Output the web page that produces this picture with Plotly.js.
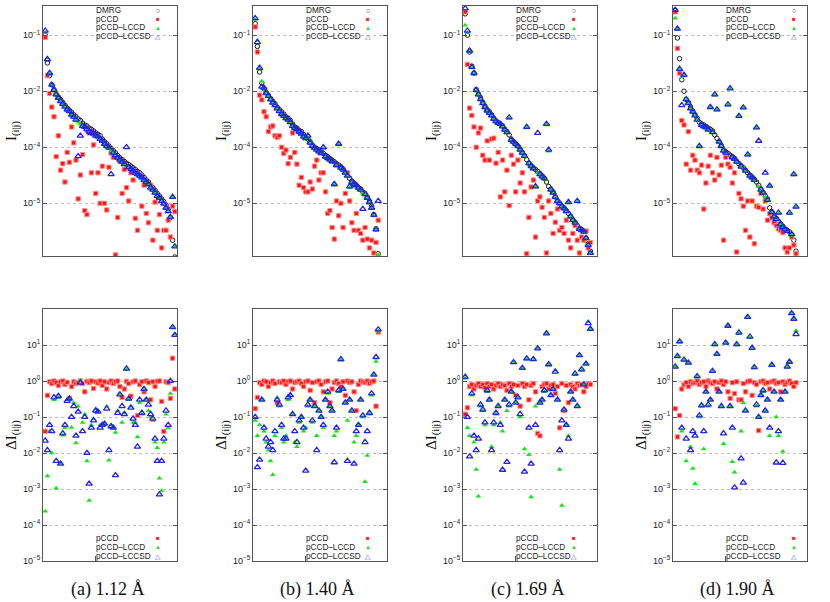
<!DOCTYPE html>
<html><head><meta charset="utf-8">
<script src="https://cdn.plot.ly/plotly-3.0.1.min.js"></script>
<style>html,body{margin:0;padding:0;background:#fff}#chart{width:830px;height:602px}</style>
</head><body><div id="chart"></div>
<script>
// ---------- legend / caption / tick labels ----------
const topNames = ['DMRG','pCCD','pCCD–LCCD','pCCD–LCCSD'];
const botNames = ['pCCD','pCCD–LCCD','pCCD–LCCSD'];
const captions = ['(a) 1.12 Å','(b) 1.40 Å','(c) 1.69 Å','(d) 1.90 Å'];
const topTickVals = [1e-1,1e-2,1e-3,1e-4];
const topTickText = ['10<sup>−1</sup>','10<sup>−2</sup>','10<sup>−4</sup>','10<sup>−5</sup>'];
const botTickVals = [1e1,1e0,1e-1,1e-2,1e-3,1e-4,1e-5];
const botTickText = ['10<sup>1</sup>','10<sup>0</sup>','10<sup>−1</sup>','10<sup>−2</sup>','10<sup>−3</sup>','10<sup>−4</sup>','10<sup>−5</sup>'];

// ---------- (a) 1.12 A : I(i|j) ----------
const dmrgA = [1.0e-1,3.2e-2,1.9e-2,1.3e-2,1.07e-2,8.9e-3,7.9e-3,7.1e-3,6.3e-3,5.6e-3,
 5.0e-3,4.6e-3,4.2e-3,3.8e-3,3.5e-3,3.2e-3,3.0e-3,2.7e-3,2.5e-3,2.4e-3,
 2.2e-3,2.1e-3,1.95e-3,1.8e-3,1.7e-3,1.6e-3,1.4e-3,1.26e-3,1.15e-3,1.05e-3,
 9.5e-4,8.7e-4,7.9e-4,7.1e-4,6.5e-4,6.0e-4,5.6e-4,5.2e-4,4.9e-4,4.6e-4,
 4.3e-4,4.0e-4,3.7e-4,3.5e-4,3.2e-4,2.9e-4,2.6e-4,2.4e-4,2.1e-4,1.9e-4,
 1.7e-4,1.5e-4,1.35e-4,1.2e-4,1.07e-4,9.3e-5,7.9e-5,5.6e-5,2.2e-5,1.1e-5];
const pccdA = [9.1e-2,1.9e-2,9.1e-3,5.2e-3,3.5e-3,6.8e-4,1.6e-3,3.9e-4,5.1e-4,2.4e-4,
 8.1e-4,5.4e-4,2.3e-3,1.2e-3,5.9e-4,1.2e-4,3.2e-4,7.4e-4,7.4e-5,6.3e-5,
 1.8e-3,3.5e-4,1.1e-3,1.5e-4,3.5e-4,1.0e-4,4.6e-4,1.0e-4,7.6e-5,4.4e-4,
 7.9e-4,6.6e-4,1.2e-5,5.6e-5,5.6e-4,1.5e-4,4.0e-4,1.9e-4,1.1e-4,3.5e-4,
 2.6e-4,5.4e-5,3.3e-5,3.2e-4,8.9e-5,2.1e-4,6.6e-5,4.5e-5,2.1e-4,2.2e-5,
 1.05e-4,3.3e-5,6.3e-5,1.6e-5,3.3e-5,3.3e-5,5.0e-5,2.5e-5,8.9e-5,7.1e-5];
const lccdA = [1.1e-1,3.9e-2,2.0e-2,1.3e-2,1.0e-2,8.5e-3,7.5e-3,6.5e-3,5.8e-3,5.2e-3,
 4.5e-3,4.6e-3,3.7e-3,3.4e-3,3.0e-3,2.8e-3,2.6e-3,2.3e-3,2.2e-3,2.0e-3,
 1.9e-3,1.8e-3,1.7e-3,1.6e-3,1.5e-3,1.4e-3,1.25e-3,1.1e-3,1.0e-3,9.5e-4,
 8.5e-4,7.7e-4,7.0e-4,6.3e-4,5.8e-4,5.3e-4,4.8e-4,4.6e-4,4.3e-4,4.0e-4,
 3.7e-4,3.4e-4,3.2e-4,3.0e-4,2.8e-4,2.5e-4,2.3e-4,2.1e-4,1.8e-4,1.7e-4,
 1.5e-4,1.3e-4,1.2e-4,1.05e-4,9.5e-5,8.0e-5,7.0e-5,5.5e-5,1.3e-4,1.7e-5];
const lccsdA = [1.2e-1,3.7e-2,2.1e-2,1.3e-2,1.05e-2,8.7e-3,7.6e-3,6.6e-3,5.9e-3,5.3e-3,
 4.7e-3,4.4e-3,3.8e-3,3.5e-3,3.1e-3,6.9e-4,1.6e-3,2.4e-3,2.3e-3,2.1e-3,
 1.9e-3,1.8e-3,1.75e-3,1.6e-3,1.55e-3,1.4e-3,1.3e-3,1.15e-3,1.05e-3,9.8e-4,
 3.3e-4,8.0e-4,7.2e-4,6.5e-4,6.0e-4,5.5e-4,5.0e-4,1.0e-3,4.4e-4,4.1e-4,
 3.8e-4,3.5e-4,3.3e-4,3.1e-4,2.9e-4,2.6e-4,2.4e-4,2.2e-4,1.9e-4,1.75e-4,
 1.55e-4,1.35e-4,1.25e-4,1.1e-4,9.8e-5,8.3e-5,7.2e-5,5.7e-5,1.3e-4,1.7e-5];
// (a) Delta I(i|j)
const dPccdA = [0.04,0.4,0.95,0.85,1.0,0.9,0.75,0.95,1.0,0.8,
 0.92,0.33,0.7,0.95,0.85,0.9,1.0,0.85,0.5,0.98,
 0.9,1.0,0.62,0.95,0.88,1.0,0.75,0.95,0.6,0.9,
 1.0,0.85,0.95,1.0,0.7,0.35,0.6,0.98,0.85,0.38,
 0.95,1.0,0.11,0.8,0.95,0.5,1.0,0.9,0.3,0.95,
 0.7,0.98,1.0,0.27,0.04,0.95,0.9,0.33,4.3,0.6];
const dLccdA = [2.4e-4,2.3e-3,0.04,0.01,0.3,1.05e-3,0.35,5.1e-3,0.031,0.05,
 0.3,0.35,0.051,0.25,0.019,0.2,1.05,0.07,0.12,6.0e-3,
 4.8e-4,0.06,0.09,0.17,0.15,0.06,0.065,0.065,0.2,6.3e-3,
 0.06,0.05,0.037,0.15,0.45,0.07,0.13,2.1,0.3,0.2,
 0.07,0.07,0.028,0.25,0.12,0.55,0.3,0.15,0.1,0.08,
 0.02,0.014,2.0e-3,9.0e-4,0.02,0.12,0.05,0.45,31,20];
const dLccsdA = [0.022,0.012,0.06,0.04,0.35,6.0e-3,0.38,5.0e-3,0.035,0.06,
 0.28,0.32,0.1,0.2,0.03,0.14,0.9,0.04,0.1,0.01,
 1.4e-3,0.05,0.08,0.15,0.14,0.05,0.06,0.065,0.17,0.012,
 0.055,0.05,2.4e-3,0.13,0.42,0.2,0.12,2.2,0.32,0.18,
 0.09,0.06,0.015,0.3,0.13,0.6,0.3,0.22,0.12,0.09,
 0.025,6.0e-3,7.0e-4,6.0e-3,0.025,0.15,0.06,1.0,31,19];

// ---------- (b) 1.40 A ----------
const dmrgB = [1.6e-1,6.3e-2,2.2e-2,1.4e-2,1.1e-2,9.5e-3,8.5e-3,7.4e-3,6.6e-3,6.0e-3,
 5.2e-3,4.7e-3,4.3e-3,3.9e-3,3.5e-3,3.3e-3,3.0e-3,2.6e-3,2.3e-3,2.2e-3,
 2.0e-3,1.9e-3,1.7e-3,1.5e-3,1.4e-3,1.26e-3,1.1e-3,1.0e-3,9.5e-4,8.9e-4,
 8.3e-4,7.8e-4,7.2e-4,6.8e-4,6.3e-4,5.9e-4,5.5e-4,5.1e-4,4.8e-4,4.5e-4,
 4.1e-4,3.6e-4,3.2e-4,2.8e-4,2.5e-4,2.3e-4,2.1e-4,1.9e-4,1.8e-4,1.6e-4,
 1.5e-4,1.3e-4,1.1e-4,8.9e-5,6.3e-5,3.5e-5,1.26e-5];
const pccdB = [1.4e-1,5.0e-2,8.5e-3,7.0e-3,4.3e-3,3.5e-3,1.9e-3,2.3e-3,2.4e-3,1.6e-3,
 1.5e-3,1.6e-3,1.0e-3,7.8e-4,8.9e-4,5.1e-4,6.6e-4,1.8e-3,8.1e-4,5.0e-4,
 2.1e-4,2.9e-4,1.9e-4,1.6e-4,1.6e-4,2.4e-4,1.8e-4,4.6e-4,5.9e-4,2.6e-4,
 3.5e-4,3.5e-4,1.6e-4,6.6e-5,7.4e-5,3.7e-5,2.3e-5,1.1e-4,6.0e-5,1.0e-4,
 3.7e-5,1.5e-4,3.5e-4,1.1e-4,4.5e-5,3.3e-5,6.6e-5,3.3e-5,2.9e-5,2.2e-5,
 3.7e-5,2.3e-5,1.6e-5,2.2e-5,1.3e-5,2.0e-5,5.0e-5];
const lccdB = [1.9e-1,8.0e-2,2.5e-2,1.5e-2,1.1e-2,9.0e-3,8.0e-3,7.0e-3,6.0e-3,5.5e-3,
 4.8e-3,4.3e-3,3.8e-3,3.5e-3,3.2e-3,3.0e-3,2.7e-3,2.3e-3,2.1e-3,2.0e-3,
 1.8e-3,1.7e-3,1.5e-3,1.4e-3,1.5e-3,1.15e-3,1.0e-3,9.5e-4,8.8e-4,8.2e-4,
 7.6e-4,9.5e-4,6.6e-4,6.2e-4,5.8e-4,5.4e-4,2.1e-4,4.6e-4,1.1e-3,4.1e-4,
 3.8e-4,3.4e-4,3.0e-4,1.9e-4,2.3e-4,2.1e-4,2.0e-4,1.8e-4,1.7e-4,1.5e-4,
 1.4e-4,1.2e-4,1.0e-4,8.0e-5,6.0e-5,3.3e-5,1.2e-5];
const lccsdB = [2.0e-1,7.5e-2,2.6e-2,1.2e-2,1.15e-2,9.2e-3,8.2e-3,7.1e-3,6.2e-3,5.6e-3,
 4.9e-3,4.4e-3,3.9e-3,3.6e-3,3.3e-3,3.1e-3,2.8e-3,2.4e-3,2.2e-3,2.1e-3,
 1.9e-3,1.75e-3,1.55e-3,1.45e-3,1.6e-3,1.2e-3,1.05e-3,9.8e-4,9.0e-4,8.4e-4,
 7.8e-4,1.0e-3,6.8e-4,6.4e-4,6.0e-4,5.6e-4,2.2e-4,4.8e-4,1.15e-3,4.3e-4,
 4.0e-4,3.5e-4,3.1e-4,2.0e-4,2.4e-4,2.2e-4,2.1e-4,1.9e-4,1.75e-4,7.9e-5,
 1.45e-4,1.25e-4,1.05e-4,8.3e-5,6.2e-5,3.4e-5,1.1e-4];
const dPccdB = [0.17,0.35,0.9,0.8,1.0,0.95,0.7,0.9,1.0,0.85,
 0.25,0.95,0.9,1.0,0.8,0.95,1.0,0.6,0.9,0.95,
 1.0,0.85,0.7,0.95,1.0,0.55,0.9,0.25,0.95,1.0,
 0.8,0.5,0.95,1.0,0.25,0.6,0.9,1.0,0.85,0.7,
 0.95,0.4,1.0,0.9,0.95,0.5,0.15,0.8,1.0,0.95,
 0.9,1.0,0.85,0.95,1.0,0.2,23];
const dLccdB = [0.08,0.03,0.06,0.3,0.04,0.02,0.012,6.0e-3,2.5e-3,0.03,
 0.35,0.2,0.05,0.02,0.03,0.3,0.4,0.12,0.02,0.015,
 0.07,0.1,0.04,0.05,0.2,0.3,0.07,0.2,0.03,0.15,
 0.1,0.05,0.3,0.45,0.2,0.15,0.03,0.04,0.5,3.8,
 0.6,0.25,0.08,0.3,0.15,0.02,0.03,0.06,0.3,0.1,
 1.6e-3,8.5e-3,0.12,0.4,1.5,3.5,24];
const dLccsdB = [0.1,4.0e-3,6.5e-3,0.3,0.05,0.025,0.015,0.02,0.012,0.04,
 0.3,0.22,0.06,0.025,0.025,0.35,0.4,0.12,0.04,0.02,
 0.08,0.1,0.05,3.2e-3,0.22,0.3,0.08,0.2,0.012,0.15,
 0.1,0.06,0.3,0.5,0.2,0.15,5.5e-3,0.05,0.55,4.0,
 0.6,0.25,6.0e-3,0.3,0.15,5.0e-3,0.04,0.06,0.3,0.11,
 0.02,0.04,0.13,0.45,1.5,4.6,27];

// ---------- (c) 1.69 A ----------
const dmrgC = [2.4e-1,1.0e-1,5.0e-2,2.8e-2,2.1e-2,1.07e-2,8.9e-3,7.6e-3,6.3e-3,5.4e-3,
 4.7e-3,4.3e-3,3.8e-3,3.3e-3,2.95e-3,2.75e-3,2.6e-3,2.4e-3,2.1e-3,1.9e-3,
 1.66e-3,1.4e-3,1.26e-3,1.15e-3,1.05e-3,9.3e-4,8.1e-4,7.1e-4,6.0e-4,5.2e-4,
 4.7e-4,4.3e-4,4.0e-4,3.7e-4,3.4e-4,3.1e-4,2.8e-4,2.4e-4,2.0e-4,1.8e-4,
 1.6e-4,1.3e-4,1.1e-4,1.0e-4,8.9e-5,8.3e-5,7.4e-5,6.6e-5,5.9e-5,5.1e-5,
 4.6e-5,4.0e-5,3.6e-5,3.4e-5,3.2e-5,2.4e-5,1.9e-5,1.4e-5];
const pccdC = [2.6e-1,3.0e-2,5.0e-3,3.7e-3,2.3e-3,1.0e-3,1.8e-3,2.2e-3,7.2e-4,5.9e-4,
 1.3e-3,5.9e-4,1.4e-3,1.45e-3,5.2e-4,8.1e-4,1.3e-4,5.9e-4,1.6e-4,3.9e-4,
 9.1e-5,7.2e-4,5.0e-4,1.6e-4,5.9e-4,2.3e-4,3.5e-4,1.6e-4,1.26e-5,5.6e-5,
 1.95e-4,2.6e-4,2.5e-5,1.1e-4,1.3e-4,8.5e-5,5.6e-5,1.3e-5,1.1e-4,6.6e-5,
 2.9e-5,4.6e-5,7.9e-5,3.3e-5,3.7e-5,2.9e-5,5.0e-5,2.2e-5,1.6e-5,2.9e-5,
 4.0e-5,2.2e-5,1.3e-5,2.5e-5,2.2e-5,3.2e-5,1.6e-5,2.0e-5];
const lccdC = [1.5e-1,1.1e-1,5.0e-2,2.6e-2,2.0e-2,1.0e-2,8.5e-3,7.0e-3,6.0e-3,5.0e-3,
 4.4e-3,4.0e-3,3.6e-3,3.1e-3,2.8e-3,2.6e-3,2.5e-3,2.3e-3,2.0e-3,1.8e-3,
 3.3e-3,1.3e-3,1.2e-3,1.1e-3,1.0e-3,8.8e-4,7.7e-4,6.7e-4,2.2e-3,5.0e-4,
 4.5e-4,4.1e-4,1.95e-4,3.5e-4,3.2e-4,2.9e-4,2.7e-4,2.5e-3,8.5e-4,1.7e-4,
 1.5e-4,1.25e-4,1.05e-4,9.5e-5,8.5e-5,7.9e-5,7.0e-5,1.05e-4,5.6e-5,4.9e-5,
 4.4e-5,1.05e-4,3.4e-5,3.2e-5,3.0e-5,2.3e-5,1.8e-5,1.3e-5];
const lccsdC = [3.0e-1,1.2e-1,5.3e-2,2.7e-2,2.1e-2,1.05e-2,8.7e-3,7.2e-3,6.1e-3,5.2e-3,
 4.5e-3,4.1e-3,3.7e-3,3.2e-3,2.9e-3,2.7e-3,2.6e-3,2.35e-3,2.05e-3,1.85e-3,
 3.4e-3,1.35e-3,1.25e-3,1.15e-3,1.05e-3,9.0e-4,8.0e-4,7.0e-4,2.3e-3,5.2e-4,
 4.6e-4,4.2e-4,2.0e-4,1.8e-3,3.3e-4,3.0e-4,2.8e-4,2.6e-3,9.0e-4,1.75e-4,
 1.55e-4,1.3e-4,1.1e-4,1.0e-4,8.8e-5,8.1e-5,7.2e-5,1.05e-4,5.8e-5,5.0e-5,
 4.5e-5,1.1e-4,3.5e-5,3.3e-5,3.1e-5,2.4e-5,1.8e-5,1.3e-5];
const dPccdC = [0.12,0.18,0.7,0.8,0.6,0.75,0.85,0.7,0.8,0.65,
 0.85,0.7,0.8,0.6,0.75,0.85,0.7,0.8,0.75,0.55,
 0.85,0.7,0.8,0.4,0.75,0.2,0.85,0.7,0.8,0.3,
 0.75,0.85,0.5,0.035,0.03,0.7,0.8,0.85,0.6,0.75,
 0.8,0.45,0.7,0.05,0.85,0.15,0.75,0.25,0.8,0.7,
 0.6,0.85,0.75,0.8,0.5,0.7,0.85,0.8];
const dLccdC = [1.2,0.05,0.03,0.4,0.02,3.5e-3,6.3e-4,0.2,0.15,0.06,
 0.5,0.3,0.015,0.06,0.12,0.2,0.07,0.04,0.3,0.15,
 0.2,0.5,3.2,0.25,0.35,0.1,2.2,0.013,4.0,9.0e-3,
 6.0e-4,4.2,0.2,8.0,0.25,0.3,0.5,21,2.8,0.4,
 0.6,2.0,0.3,3.5e-3,3.5e-4,0.15,0.06,0.03,0.5,0.3,
 1.5,0.2,5.0,2.0,0.8,3.0,45,27];
const dLccsdC = [1.3,0.1,8.0e-3,0.45,0.03,0.012,0.025,0.22,0.16,0.07,
 0.55,0.3,0.012,0.07,0.13,0.2,0.06,3.4e-3,0.3,5.6e-3,
 0.22,0.5,3.3,0.25,0.35,0.12,2.3,3.0e-3,4.2,0.05,
 5.0e-3,4.0,0.06,8.0,0.25,0.3,0.55,21,2.9,0.4,
 0.6,1.8,0.3,0.012,0.08,0.16,0.06,0.025,0.5,0.3,
 1.6,0.2,5.2,2.1,0.8,3.0,40,28];

// ---------- (d) 1.90 A ----------
const dmrgD = [2.8e-1,8.9e-2,3.8e-2,1.6e-2,1.0e-2,7.1e-3,6.3e-3,5.2e-3,4.4e-3,3.8e-3,
 3.3e-3,2.8e-3,2.6e-3,2.5e-3,2.35e-3,2.2e-3,2.1e-3,1.95e-3,1.66e-3,1.45e-3,
 1.26e-3,1.07e-3,8.9e-4,8.3e-4,7.8e-4,7.2e-4,6.8e-4,6.3e-4,5.6e-4,5.1e-4,
 4.7e-4,4.3e-4,3.9e-4,3.5e-4,3.2e-4,2.95e-4,2.7e-4,2.4e-4,2.1e-4,1.8e-4,
 1.55e-4,1.35e-4,1.2e-4,8.3e-5,7.1e-5,6.0e-5,5.4e-5,4.8e-5,4.3e-5,3.9e-5,
 3.5e-5,3.3e-5,3.1e-5,2.8e-5,2.2e-5,1.4e-5];
const pccdD = [2.6e-1,5.8e-2,2.1e-2,3.0e-3,2.5e-3,5.0e-4,1.9e-3,3.9e-4,7.2e-4,5.9e-4,
 3.9e-4,3.5e-4,4.8e-4,7.9e-5,2.3e-4,4.6e-4,7.2e-4,3.5e-4,2.6e-4,6.6e-4,
 3.2e-4,4.8e-4,2.2e-5,6.6e-4,5.0e-4,4.4e-4,2.3e-4,3.5e-4,1.35e-5,1.5e-4,
 1.2e-4,8.9e-5,3.3e-5,1.1e-4,2.5e-5,1.1e-4,1.9e-5,8.9e-5,8.5e-5,1.5e-4,
 7.9e-5,1.1e-4,5.0e-5,6.5e-5,5.5e-5,4.5e-5,4.0e-5,3.5e-5,3.3e-5,3.0e-5,
 1.6e-5,1.35e-5,1.6e-5,2.5e-5,1.8e-5,1.26e-5];
const lccdD = [2.0e-1,1.26e-1,2.4e-2,1.8e-2,1.9e-2,7.0e-3,6.0e-3,4.8e-3,4.2e-3,3.6e-3,
 3.0e-3,1.0e-3,2.4e-3,2.3e-3,2.2e-3,2.0e-3,5.0e-3,1.8e-3,8.5e-3,4.6e-3,
 1.2e-3,1.0e-3,8.5e-4,7.8e-4,5.6e-3,1.1e-2,6.4e-4,6.0e-4,5.3e-4,3.5e-3,
 4.4e-4,5.0e-3,3.7e-4,7.2e-4,3.0e-4,2.8e-4,2.5e-4,2.2e-3,2.0e-4,1.7e-4,
 1.5e-4,1.3e-4,1.1e-4,2.0e-4,6.8e-5,5.7e-5,5.1e-5,6.6e-5,4.1e-5,3.7e-5,
 3.3e-5,3.1e-5,6.6e-5,2.7e-5,3.2e-4,8.5e-5];
const lccsdD = [2.8e-1,1.3e-1,2.5e-2,5.6e-3,1.95e-2,7.2e-3,6.1e-3,4.9e-3,4.3e-3,3.7e-3,
 3.1e-3,1.05e-3,2.5e-3,2.35e-3,2.25e-3,2.05e-3,5.2e-3,1.85e-3,8.7e-3,4.7e-3,
 1.25e-3,1.05e-3,8.7e-4,8.0e-4,5.8e-3,1.12e-2,6.6e-4,6.2e-4,5.5e-4,3.6e-3,
 4.5e-4,5.1e-3,3.8e-4,7.4e-4,3.1e-4,2.9e-4,2.6e-4,2.25e-3,1.3e-3,1.75e-4,
 1.55e-4,3.5e-4,1.15e-4,2.05e-4,7.0e-5,5.8e-5,5.2e-5,6.8e-5,4.2e-5,3.8e-5,
 3.4e-5,3.2e-5,6.8e-5,2.8e-5,3.3e-4,8.7e-5];
const dPccdD = [0.17,0.028,0.11,0.6,0.8,0.9,0.7,0.95,0.85,0.9,
 1.0,0.8,0.9,0.95,0.7,1.0,0.9,0.85,0.95,0.6,
 0.9,1.0,0.8,0.95,0.5,0.33,0.9,0.45,0.95,0.3,
 0.3,0.85,0.5,0.95,1.0,0.4,0.9,0.8,0.042,0.95,
 1.0,0.85,0.9,0.6,0.95,1.0,0.85,0.9,0.5,0.95,
 0.8,0.9,1.0,0.85,0.7,0.9];
const dLccdD = [2.4,4.8,12,0.04,3.8,6.0e-3,3.1,0.015,3.7e-3,1.4e-3,
 1.3,0.1,0.2,0.013,0.5,0.2,0.3,1.8,10,5.4,
 0.5,0.2,0.018,11,33,0.2,5.7e-3,2.9e-3,10,21,
 0.04,0.25,0.15,58,16,8,2.3,0.2,0.1,0.4,
 0.5,0.15,0.3,0.03,2.7,0.5,0.1,0.03,0.3,0.011,
 0.5,2.4,3.3,75,52,25];
const dLccsdD = [2.5,4.9,12.5,0.05,3.9,0.025,3.2,0.012,0.04,0.03,
 1.35,0.11,0.21,0.04,0.5,0.22,0.3,1.9,10.5,5.6,
 0.5,0.2,0.035,11.5,34,0.2,0.05,1.1e-3,10.5,22,
 7.0e-3,1.5e-3,0.15,60,17,8.3,2.4,0.22,0.1,0.4,
 0.55,0.15,0.3,0.05,2.8,0.5,5.4e-3,0.04,0.3,5.3e-3,
 0.5,2.5,3.4,76,53,20];

// ---------- assemble ----------
const topSeries = [
  [dmrgA,pccdA,lccdA,lccsdA],[dmrgB,pccdB,lccdB,lccsdB],
  [dmrgC,pccdC,lccdC,lccsdC],[dmrgD,pccdD,lccdD,lccsdD]];
const botSeries = [
  [dPccdA,dLccdA,dLccsdA],[dPccdB,dLccdB,dLccsdB],
  [dPccdC,dLccdC,dLccsdC],[dPccdD,dLccdD,dLccsdD]];

const W = 830, H = 602;
const lefts = [43,253,463,673], PW = 134;
const symOff = [115,115,111,121];

const styles = {
  'DMRG': {symbol:'circle-open', size:4.5, color:'#1a1a1a', line:{width:1}},
  'pCCD': {symbol:'square', size:4.3, color:'#ff1414', line:{color:'#ff8a8a', width:1}},
  'pCCD–LCCD': {symbol:'triangle-up', size:5, color:'#14e614', line:{width:0}},
  'pCCD–LCCSD': {symbol:'triangle-up-open', size:5.5, color:'#2323e8', line:{width:1.3}}
};
const glyph = {'DMRG':['○','#222',7],'pCCD':['■','#ff2020',6],'pCCD–LCCD':['▲','#18e018',6],'pCCD–LCCSD':['△','#5050ff',7]};

const data = [];
const layout = {
  width:W, height:H, margin:{l:0,r:0,t:0,b:0},
  paper_bgcolor:'#fff', plot_bgcolor:'#fff', showlegend:false,
  font:{family:'Liberation Sans, Arial, sans-serif', size:9, color:'#222'},
  annotations:[]
};
function yAxisBase(){
  return {type:'log', showgrid:true, gridcolor:'#bdbdbd', griddash:'dot', gridwidth:1,
    showline:true, linecolor:'#555', linewidth:1, mirror:'ticks', ticks:'inside', ticklen:4,
    tickcolor:'#555', zeroline:false, tickfont:{family:'Liberation Sans, Arial', size:9, color:'#222'}};
}
for (let k=0;k<4;k++){
  const L = lefts[k];
  const xd = [L/W,(L+PW)/W];
  const t = k+1, b = k+5;
  layout['xaxis'+t] = {domain:xd, anchor:'y'+t, range:[-1,60], showline:true, mirror:true,
    linecolor:'#555', linewidth:1, showgrid:false, zeroline:false, showticklabels:false, ticks:''};
  layout['yaxis'+t] = Object.assign(yAxisBase(), {domain:[1-256/H,1-6/H], anchor:'x'+t,
    range:[-4.94,-0.48], tickvals:topTickVals, ticktext:topTickText,
    title:{text:'I<sub>(i|j)</sub>', font:{family:'Liberation Serif, serif', size:15, color:'#111'}, standoff:2}});
  layout['xaxis'+b] = {domain:xd, anchor:'y'+b, range:[-1,60], showline:true, mirror:true,
    linecolor:'#555', linewidth:1, showgrid:false, zeroline:false, showticklabels:false,
    ticks:'inside', ticklen:5, tickcolor:'#555', tickvals:[23]};
  layout['yaxis'+b] = Object.assign(yAxisBase(), {domain:[1-561/H,1-309/H], anchor:'x'+b,
    range:[-5,2], tickvals:botTickVals, ticktext:botTickText,
    title:{text:'ΔI<sub>(i|j)</sub>', font:{family:'Liberation Serif, serif', size:15, color:'#111'}, standoff:2}});

  topNames.forEach((nm,j)=>{
    data.push({type:'scatter', mode:'markers', name:nm, y:topSeries[k][j], xaxis:'x'+t, yaxis:'y'+t,
      marker:styles[nm], hoverinfo:'skip', showlegend:false});
  });
  botNames.forEach((nm,j)=>{
    data.push({type:'scatter', mode:'markers', name:nm, y:botSeries[k][j], xaxis:'x'+b, yaxis:'y'+b,
      marker:styles[nm], hoverinfo:'skip', showlegend:false});
  });

  // legend entries (text + key glyph)
  const topRows = [11,19.5,28,36.5], botRows = [538,547,556];
  topNames.forEach((nm,j)=>{
    layout.annotations.push({xref:'paper',yref:'paper',x:(L+51)/W,y:1-topRows[j]/H,xanchor:'left',yanchor:'middle',
      text:nm,showarrow:false,font:{size:8.2,color:'#222'}});
    layout.annotations.push({xref:'paper',yref:'paper',x:(L+symOff[k])/W,y:1-topRows[j]/H,xanchor:'center',yanchor:'middle',
      text:glyph[nm][0],showarrow:false,font:{size:glyph[nm][2],color:glyph[nm][1]}});
  });
  botNames.forEach((nm,j)=>{
    layout.annotations.push({xref:'paper',yref:'paper',x:(L+51)/W,y:1-botRows[j]/H,xanchor:'left',yanchor:'middle',
      text:nm,showarrow:false,font:{size:8.2,color:'#222'}});
    layout.annotations.push({xref:'paper',yref:'paper',x:(L+symOff[k])/W,y:1-botRows[j]/H,xanchor:'center',yanchor:'middle',
      text:glyph[nm][0],showarrow:false,font:{size:glyph[nm][2],color:glyph[nm][1]}});
  });
  layout.annotations.push({xref:'paper',yref:'paper',x:(L+PW/2-3)/W,y:1-589/H,xanchor:'center',yanchor:'middle',
    text:captions[k],showarrow:false,font:{family:'Liberation Serif, serif',size:18,color:'#111'}});
}
Plotly.newPlot('chart', data, layout, {staticPlot:true, displayModeBar:false});
</script></body></html>
